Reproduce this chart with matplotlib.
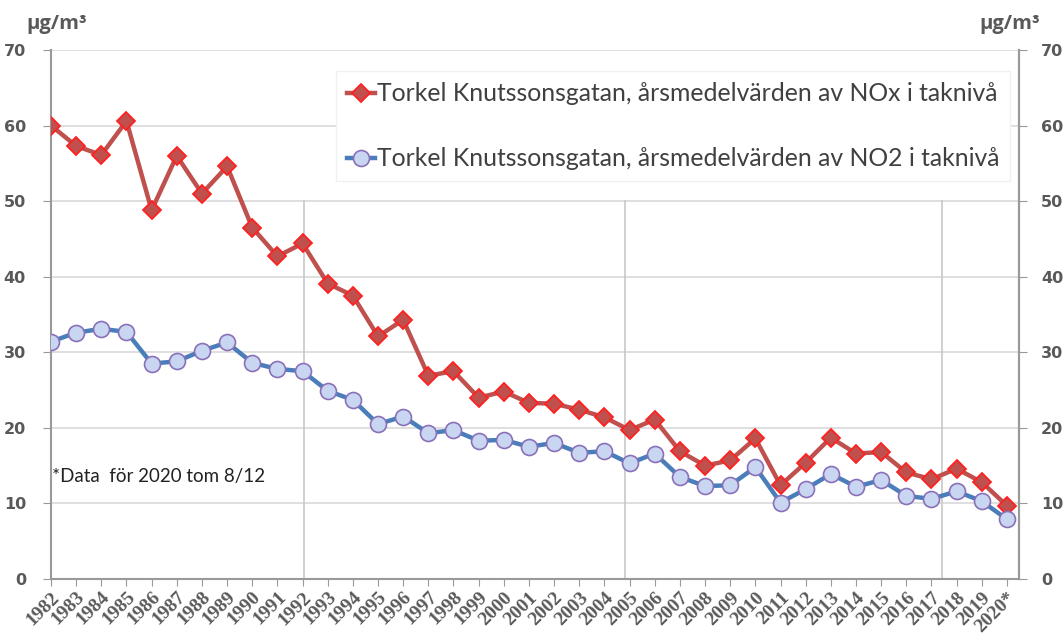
import numpy as np
import matplotlib.pyplot as plt

# Annual means, Torkel Knutssonsgatan (roof level), µg/m³
years = [str(y) for y in range(1982, 2020)] + ["2020*"]
nox = [60.0, 57.3, 56.1, 60.6, 48.8, 56.0, 51.0, 54.6, 46.5, 42.7,
       44.4, 39.1, 37.5, 32.1, 34.3, 26.9, 27.5, 24.0, 24.8, 23.3,
       23.2, 22.4, 21.4, 19.7, 21.1, 16.9, 15.0, 15.7, 18.6, 12.4,
       15.4, 18.7, 16.6, 16.8, 14.1, 13.2, 14.6, 12.8, 9.7]
no2 = [31.4, 32.6, 33.1, 32.7, 28.5, 28.8, 30.2, 31.3, 28.6, 27.8,
       27.5, 24.9, 23.7, 20.5, 21.5, 19.3, 19.7, 18.3, 18.4, 17.5,
       18.0, 16.7, 16.9, 15.3, 16.6, 13.5, 12.3, 12.4, 14.8, 10.1,
       11.9, 13.9, 12.2, 13.1, 11.0, 10.6, 11.6, 10.3, 7.9]

label_nox = "Torkel Knutssonsgatan, årsmedelvärden av NOx i taknivå"
label_no2 = "Torkel Knutssonsgatan, årsmedelvärden av NO2 i taknivå"

grey = "#595959"
x = np.arange(len(years))

fig = plt.figure(figsize=(10.63, 6.37), dpi=100)
ax = fig.add_axes([51 / 1063, 58 / 637, 968 / 1063, 529 / 637])

ax.set_ylim(0, 70)
ax.set_xlim(0, len(years) - 0.52)
ax.set_yticks(range(0, 71, 10))
ax.grid(axis="y", color="#d9d9d9", lw=1.2)
ax.set_axisbelow(True)

# separators between periods
for xv in [10.05, 22.8, 35.4]:
    ax.axvline(xv, ymax=50 / 70, color="#c8c8c8", lw=1.2, zorder=1)

ax.plot(x, nox, color="#c0504d", lw=3.2, marker="D", ms=9.5,
        mfc="#c0504d", mec="#ff2020", mew=1.3, label=label_nox, zorder=3)
ax.plot(x, no2, color="#4a7ebb", lw=3.2, marker="o", ms=11.5,
        mfc="#c9d6f2", mec="#8a70b8", mew=1.2, label=label_no2, zorder=3)

ax.set_xticks(x)
ax.set_xticklabels(years, rotation=45, ha="right", rotation_mode="anchor",
                   family="Liberation Serif", fontweight="bold",
                   fontsize=14, color=grey)
ax.tick_params(axis="x", length=5, color="#999999", pad=2)
ax.tick_params(axis="y", length=6, color="#999999", labelsize=11.5,
               labelcolor=grey, pad=12)
for t in ax.get_yticklabels():
    t.set_fontweight("bold")

for side in ["left", "right", "bottom"]:
    ax.spines[side].set_color("#999999")
    ax.spines[side].set_linewidth(1.5)
ax.spines["top"].set_visible(False)

ax2 = ax.twinx()
ax2.set_ylim(0, 70)
ax2.set_yticks(range(0, 71, 10))
ax2.tick_params(axis="y", length=6, color="#999999", labelsize=11.5,
                labelcolor=grey, pad=10)
for t in ax2.get_yticklabels():
    t.set_fontweight("bold")
for side in ["top", "left", "bottom"]:
    ax2.spines[side].set_visible(False)
ax2.spines["right"].set_color("#999999")
ax2.spines["right"].set_linewidth(1.5)

fig.text(26 / 1063, 1 - 24 / 637, "µg/m³", fontsize=14.5, fontweight="bold",
         color=grey, va="center", family="Open Sans")
fig.text(1040 / 1063, 1 - 24 / 637, "µg/m³", fontsize=14.5, fontweight="bold",
         color=grey, va="center", ha="right", family="Open Sans")

ax.text(0.02, 13.5, "*Data  för 2020 tom 8/12", fontsize=13.5,
        family="Lato", color="#222222", va="center")

leg = ax.legend(loc="upper right", bbox_to_anchor=(0.991, 0.96),
                prop={"family": "Lato", "size": 17.8}, frameon=True,
                fancybox=False, edgecolor="#f0f0f0", framealpha=1,
                handlelength=1.15, handletextpad=0.05, labelspacing=1.7,
                borderpad=0.45, borderaxespad=0, labelcolor="#404040")

fig.savefig("out.png", dpi=100)
